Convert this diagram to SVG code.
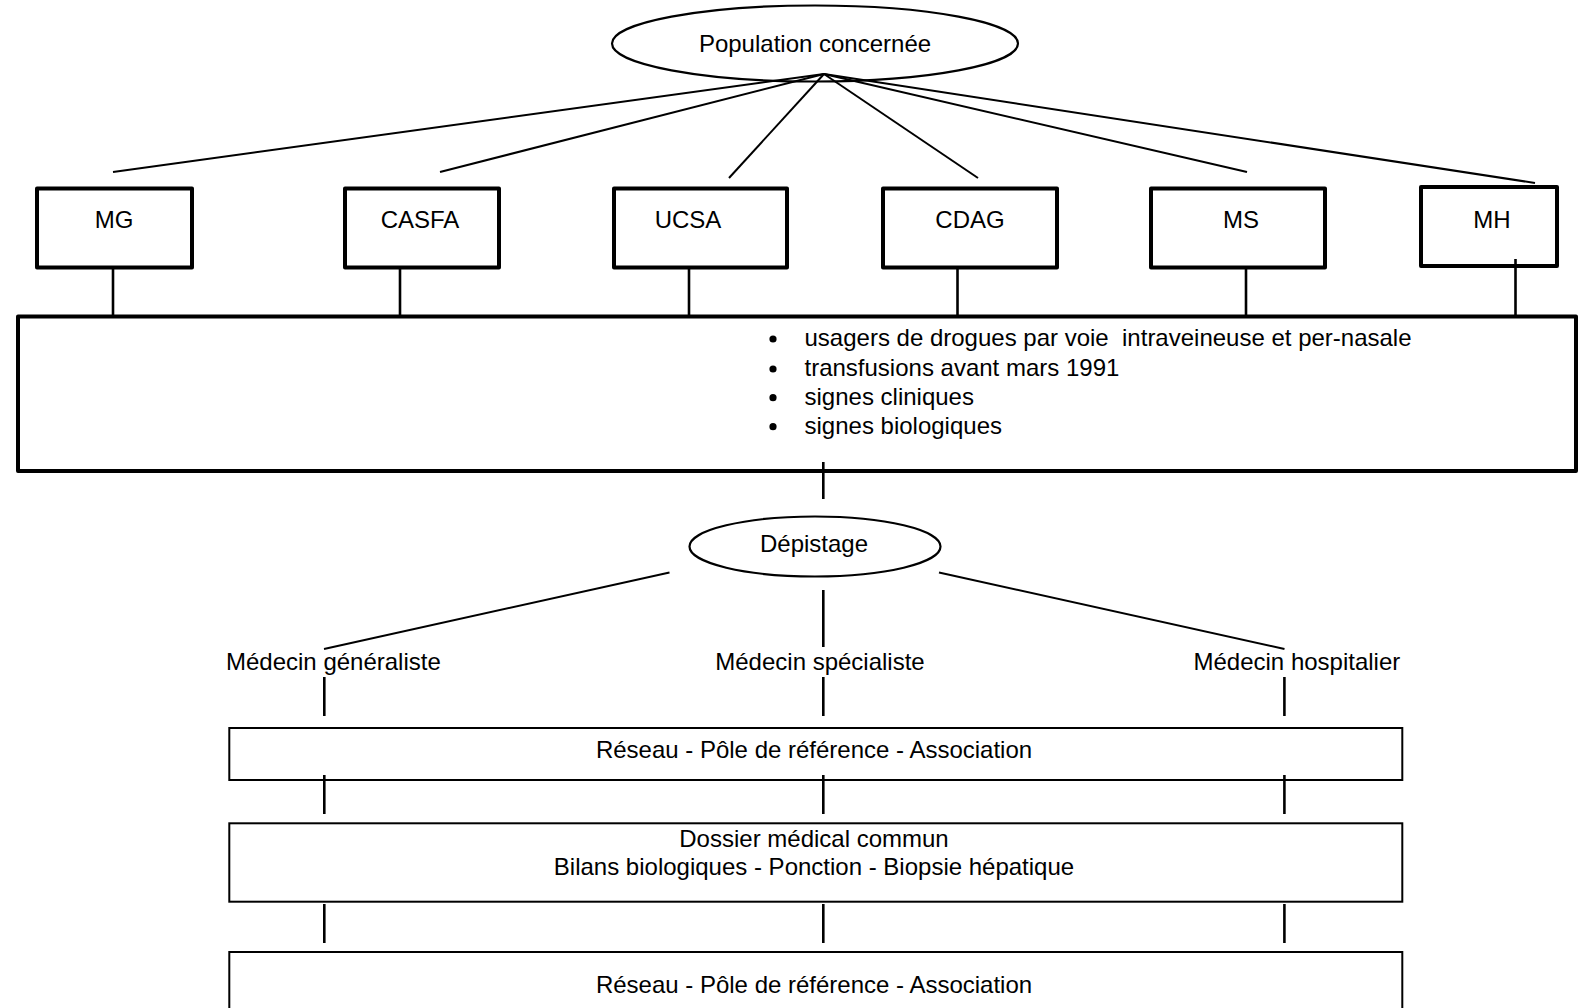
<svg xmlns="http://www.w3.org/2000/svg" width="1579" height="1008" viewBox="0 0 1579 1008">
<style>
text{font-family:"Liberation Sans",Arial,sans-serif;font-size:24px;fill:#000}
.c{text-anchor:middle}
.box{fill:none;stroke:#000;stroke-width:4;stroke-linejoin:round}
.thin{fill:none;stroke:#000;stroke-width:2}
.ell{fill:none;stroke:#000;stroke-width:2.2}
.ln{stroke:#000;stroke-width:2;fill:none}
.vl{stroke:#000;stroke-width:2.6;fill:none}
</style>
<rect width="1579" height="1008" fill="#fff"/>
<g id="connectors">
<line class="ln" x1="824" y1="74" x2="113" y2="172"/>
<line class="ln" x1="824" y1="74" x2="440" y2="172"/>
<line class="ln" x1="824" y1="74" x2="729" y2="178"/>
<line class="ln" x1="824" y1="74" x2="978" y2="178"/>
<line class="ln" x1="824" y1="74" x2="1247" y2="172"/>
<line class="ln" x1="824" y1="74" x2="1535" y2="183"/>
<line class="vl" x1="113" y1="267" x2="113" y2="316"/>
<line class="vl" x1="400" y1="267" x2="400" y2="316"/>
<line class="vl" x1="689" y1="267" x2="689" y2="316"/>
<line class="vl" x1="957.5" y1="267" x2="957.5" y2="316"/>
<line class="vl" x1="1246" y1="267" x2="1246" y2="316"/>
<line class="vl" x1="1515.5" y1="259" x2="1515.5" y2="316"/>
<line class="vl" x1="823.3" y1="462" x2="823.3" y2="499"/>
<line class="ln" x1="669.5" y1="572.5" x2="324" y2="649"/>
<line class="ln" x1="939" y1="572.5" x2="1284.5" y2="649"/>
<line class="vl" x1="823.3" y1="590" x2="823.3" y2="647"/>
<line class="vl" x1="324.3" y1="677" x2="324.3" y2="716"/>
<line class="vl" x1="823.3" y1="677" x2="823.3" y2="716"/>
<line class="vl" x1="1284.4" y1="677" x2="1284.4" y2="716"/>
<line class="vl" x1="324.3" y1="775" x2="324.3" y2="814"/>
<line class="vl" x1="823.3" y1="775" x2="823.3" y2="814"/>
<line class="vl" x1="1284.4" y1="775" x2="1284.4" y2="814"/>
<line class="vl" x1="324.3" y1="904" x2="324.3" y2="943"/>
<line class="vl" x1="823.3" y1="904" x2="823.3" y2="943"/>
<line class="vl" x1="1284.4" y1="904" x2="1284.4" y2="943"/>
</g>
<g id="population">
<ellipse class="ell" cx="815" cy="43.5" rx="203" ry="38"/>
<text class="c" x="815" y="52">Population concernée</text>
</g>
<g id="mg">
<rect class="box" x="37" y="188.5" width="155" height="79"/>
<text class="c" x="114" y="228">MG</text>
</g>
<g id="casfa">
<rect class="box" x="345" y="188.5" width="154" height="79"/>
<text class="c" x="420" y="228">CASFA</text>
</g>
<g id="ucsa">
<rect class="box" x="614" y="188.5" width="173" height="79"/>
<text class="c" x="688" y="228">UCSA</text>
</g>
<g id="cdag">
<rect class="box" x="883" y="188.5" width="174" height="79"/>
<text class="c" x="970" y="228">CDAG</text>
</g>
<g id="ms">
<rect class="box" x="1151" y="188.5" width="174" height="79"/>
<text class="c" x="1241" y="228">MS</text>
</g>
<g id="mh">
<rect class="box" x="1421" y="187" width="136" height="79"/>
<text class="c" x="1492" y="228">MH</text>
</g>
<g id="criteria">
<rect class="box" x="18" y="316.5" width="1558" height="154.5"/>
<circle cx="773" cy="339" r="3.6"/>
<circle cx="773" cy="369" r="3.6"/>
<circle cx="773" cy="397.7" r="3.6"/>
<circle cx="773" cy="426.7" r="3.6"/>
<text x="804.5" y="345.5" xml:space="preserve">usagers de drogues par voie  intraveineuse et per-nasale</text>
<text x="804.5" y="375.5">transfusions avant mars 1991</text>
<text x="804.5" y="404.5">signes cliniques</text>
<text x="804.5" y="433.5">signes biologiques</text>
</g>
<g id="depistage">
<ellipse class="ell" cx="815" cy="546.5" rx="125.5" ry="30"/>
<text class="c" x="814" y="551.5">Dépistage</text>
</g>
<g id="generaliste">
<text x="226" y="670">Médecin généraliste</text>
</g>
<g id="specialiste">
<text class="c" x="820" y="670">Médecin spécialiste</text>
</g>
<g id="hospitalier">
<text x="1193.5" y="670">Médecin hospitalier</text>
</g>
<g id="reseau1">
<rect class="thin" x="229.3" y="728" width="1173" height="52"/>
<text class="c" x="814" y="758">Réseau - Pôle de référence - Association</text>
</g>
<g id="dossier">
<rect class="thin" x="229.3" y="823.3" width="1173" height="78.4"/>
<text class="c" x="814" y="846.5">Dossier médical commun</text>
<text class="c" x="814" y="875">Bilans biologiques - Ponction - Biopsie hépatique</text>
</g>
<g id="reseau2">
<rect class="thin" x="229.3" y="952" width="1173" height="80"/>
<text class="c" x="814" y="993">Réseau - Pôle de référence - Association</text>
</g>
</svg>
